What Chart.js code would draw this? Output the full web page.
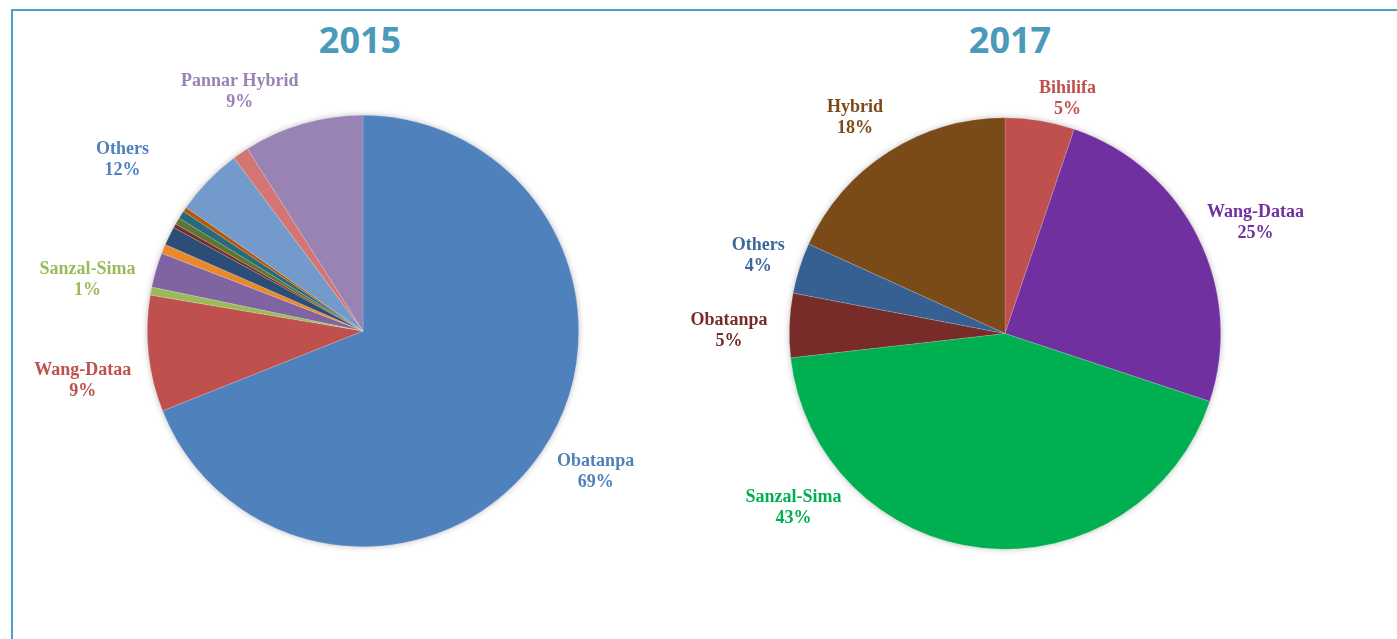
<!DOCTYPE html>
<html>
<head>
<meta charset="utf-8">
<script src="https://cdn.jsdelivr.net/npm/chart.js@4"></script>
<style>
  html, body { margin: 0; padding: 0; background: #fff; }
  body { width: 1397px; height: 639px; position: relative; overflow: hidden; }
  .frame { position: absolute; left: 11px; top: 9px; width: 1400px; height: 700px;
           border-left: 2px solid #4BA3C3; border-top: 2px solid #4BA3C3; }
  .title { position: absolute; top: 16px; width: 200px; text-align: center;
           font: bold 36px 'Open Sans', sans-serif; color: #4A9BB9; line-height: 48px; }
  canvas { position: absolute; top: 0; }
</style>
</head>
<body>
<div class="frame"></div>
<div class="title" style="left:260px">2015</div>
<div class="title" style="left:910px">2017</div>
<canvas id="pie2015" width="640" height="639" style="left:0"></canvas>
<canvas id="pie2017" width="757" height="639" style="left:640px"></canvas>

<script>
// 2015 shares (% of farmers), clockwise from 12 o'clock
const varieties2015 = ['Obatanpa', 'Wang-Dataa', 'Sanzal-Sima', 'Other A', 'Other B', 'Other C',
  'Other D', 'Other E', 'Other F', 'Other G', 'Others', 'Other H', 'Pannar Hybrid'];
const shares2015 = [69.0, 8.7, 0.6, 2.6, 0.7, 1.4, 0.3, 0.5, 0.6, 0.35, 5.1, 1.2, 9.0];
const colors2015 = ['#4F81BD', '#C0504D', '#9BBB59', '#8064A2', '#E88A2C', '#2C4D75',
  '#772C2A', '#5F7530', '#276A7C', '#B65708', '#729ACA', '#D47573', '#9983B5'];

// 2017 shares
const varieties2017 = ['Bihilifa', 'Wang-Dataa', 'Sanzal-Sima', 'Obatanpa', 'Others', 'Hybrid'];
const shares2017 = [5.2, 24.9, 43.1, 4.8, 3.8, 18.2];
const colors2017 = ['#C0504D', '#7030A0', '#00B050', '#772C2A', '#376092', '#7B4A19'];

// which slices carry a label (Others 2015 groups the small slices)
const labels2015 = [
  { name: 'Obatanpa', slices: [0], color: '#4F81BD', turn: -3, dist: 1.26 },
  { name: 'Wang-Dataa', slices: [1], color: '#C0504D', turn: -4, dist: 1.32 },
  { name: 'Sanzal-Sima', slices: [2], color: '#9BBB59', turn: 0, dist: 1.30 },
  { name: 'Others', slices: [3, 4, 5, 6, 7, 8, 9, 10], color: '#4F81BD', turn: 3, dist: 1.37 },
  { name: 'Pannar Hybrid', slices: [12], color: '#9983B5', turn: -11, dist: 1.25 }
];
const labels2017 = [
  { name: 'Bihilifa', slices: [0], color: '#C0504D', turn: 5.5, dist: 1.13 },
  { name: 'Wang-Dataa', slices: [1], color: '#7030A0', turn: 2.6, dist: 1.27 },
  { name: 'Sanzal-Sima', slices: [2], color: '#00B050', turn: 44.6, dist: 1.27 },
  { name: 'Obatanpa', slices: [3], color: '#772C2A', turn: -1.5, dist: 1.28 },
  { name: 'Others', slices: [4], color: '#3F6797', turn: 0, dist: 1.20 },
  { name: 'Hybrid', slices: [5], color: '#7B4A19', turn: -2, dist: 1.22 }
];

// soft shadow behind the pie + outside labels
const pieExtras = {
  id: 'pieExtras',
  beforeDatasetsDraw(chart) {
    const arc = chart.getDatasetMeta(0).data[0];
    const ctx = chart.ctx;
    ctx.save();
    ctx.shadowColor = 'rgba(0,0,0,0.35)';
    ctx.shadowBlur = 7;
    ctx.fillStyle = '#fff';
    ctx.beginPath();
    ctx.arc(arc.x, arc.y, arc.outerRadius - 1, 0, Math.PI * 2);
    ctx.fill();
    ctx.restore();
  },
  afterDatasetsDraw(chart, args, opts) {
    const ctx = chart.ctx;
    const meta = chart.getDatasetMeta(0);
    const values = chart.data.datasets[0].data;
    const total = values.reduce((a, b) => a + b, 0);
    ctx.save();
    ctx.font = 'bold 18px "Liberation Serif", serif';
    ctx.textAlign = 'center';
    ctx.textBaseline = 'middle';
    opts.items.forEach(item => {
      const first = meta.data[item.slices[0]];
      const last = meta.data[item.slices[item.slices.length - 1]];
      const mid = (first.startAngle + last.endAngle) / 2 + item.turn * Math.PI / 180;
      const r = first.outerRadius * item.dist;
      const x = first.x + Math.cos(mid) * r;
      const y = first.y + Math.sin(mid) * r;
      const sum = item.slices.reduce((a, i) => a + values[i], 0);
      ctx.fillStyle = item.color;
      ctx.fillText(item.name, x, y - 10);
      ctx.fillText(Math.round(sum / total * 100) + '%', x, y + 11);
    });
    ctx.restore();
  }
};

function makePie(id, labels, data, colors, items, padding) {
  const ctx = document.getElementById(id).getContext('2d');
  return new Chart(ctx, {
    type: 'pie',
    data: {
      labels: labels,
      datasets: [{
        data: data,
        backgroundColor: colors,
        borderColor: 'rgba(255,255,255,0.25)',
        borderWidth: 0.6
      }]
    },
    options: {
      responsive: false,
      animation: false,
      layout: { padding: padding },
      plugins: {
        legend: { display: false },
        tooltip: { enabled: false },
        pieExtras: { items: items }
      }
    },
    plugins: [pieExtras]
  });
}

makePie('pie2015', varieties2015, shares2015, colors2015, labels2015,
  { left: 147, right: 61, top: 115, bottom: 92 });
makePie('pie2017', varieties2017, shares2017, colors2017, labels2017,
  { left: 149, right: 176, top: 117, bottom: 89 });
</script>
</body>
</html>
